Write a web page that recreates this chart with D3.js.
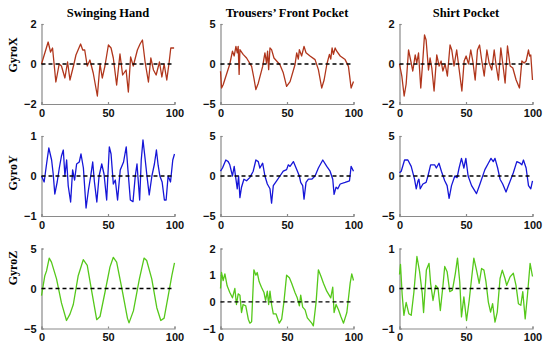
<!doctype html>
<html lang="en">
<head>
<meta charset="utf-8">
<title>Gyro panels</title>
<style>
  body { margin: 0; background: #fff; }
  .tick text { font-family: Arial, "Liberation Sans", sans-serif; font-weight: bold; font-size: 11px; fill: #111; }
  .title { font-family: "Times New Roman", "Liberation Serif", serif; font-weight: bold; font-size: 12.5px; }
  .ylab { font-family: "Times New Roman", "Liberation Serif", serif; font-weight: bold; font-size: 12px; }
</style>
</head>
<body>
<div id="chart"></div>
<script src="https://d3js.org/d3.v7.min.js"></script>
<script>
// column titles, row labels, ticks
var columns = ["Swinging Hand", "Trousers\u2019 Front Pocket", "Shirt Pocket"];
var rows = ["GyroX", "GyroY", "GyroZ"];
var xTicks = [0, 50, 100];
var yTicks = [
  [[-2, 0, 2], [-5, 0, 5], [-2, 0, 2]],
  [[-1, 0, 1], [-5, 0, 5], [-5, 0, 5]],
  [[-5, 0, 5], [-1, 0, 1, 2], [-1, 0, 1]]
];

// series: [sample, value]
var swingGyroX = [[0,0],[5,1.1],[6.8,0.6],[8.3,0.8],[10.8,-0.9],[13.3,0],[15,-0.1],[17.6,-0.7],[19.6,0.1],[21.4,-0.8],[24.4,0],[25.9,0.45],[29.4,1.0],[31,0.7],[32.5,0.7],[34.4,-0.1],[36.4,0.2],[38.9,-0.45],[42,-1.6],[44,0],[45.7,-0.7],[47.7,-0.1],[50.3,0.95],[52.3,0.8],[54,0.3],[56.5,-1.05],[59,0.5],[61,-0.55],[63.6,-0.3],[65.3,-1.4],[67,0.35],[69,-0.1],[72.1,0.7],[74.1,1.0],[75.9,1.2],[77.9,0.1],[80.4,-0.9],[82.2,0.3],[84.2,-0.3],[86.2,-0.55],[88.7,0.1],[90.5,-0.65],[92.2,0],[94.2,-0.8],[96,0.1],[97.2,0.8],[99.7,0.8]];
var trouserGyroX = [[0,-0.9],[0.8,-3],[2,-2.6],[7,0],[9,1.6],[10.3,1.0],[11.6,2.2],[12.6,1.4],[13.3,2.2],[14,-1.3],[14.6,1.8],[17,1.2],[19.6,0.75],[23.4,-0.3],[25.1,-1.75],[26.6,-3.2],[28.4,-2.4],[31.7,-0.3],[33.4,1.4],[34.6,0.1],[35.4,1.6],[36.2,-0.7],[37.2,2.0],[38.4,1.8],[40.2,0.75],[44.7,-0.1],[47.2,-1.1],[49.7,-2.8],[52.3,-2.2],[56,-0.1],[57.3,1.4],[58.5,0.6],[59.3,1.8],[61,1.0],[62.8,2.2],[64.3,1.4],[67.3,1.0],[71.1,0.55],[73.6,-0.7],[76.1,-3.0],[77.9,-2],[80,0],[81.9,1.2],[82.9,0.6],[83.9,2.0],[84.9,1.2],[86.2,2.0],[87.4,1.6],[90,1.0],[93.7,0.55],[96.2,-0.3],[98.2,-3],[100,-2.2]];
var shirtGyroX = [[0,0],[1.75,-0.6],[3.5,-1.6],[5,-1],[6.8,0.7],[8.5,0.15],[10,-0.35],[11.8,0.45],[13,0.05],[14.3,0.55],[16,-1.2],[17.5,0.15],[18.8,1.45],[20,1.2],[21.8,-0.3],[23,0.3],[24.3,-0.2],[26,-1.35],[28,0.45],[29.8,-0.1],[31.3,0.15],[32.6,-0.35],[34.3,0],[36,-0.6],[38,0.95],[39.3,0.7],[41,-0.1],[43,0.7],[44.9,-0.3],[46.9,-1.35],[48.6,0.15],[50.1,0.4],[51.9,0],[53.6,0.7],[55.1,0.15],[56.9,-0.8],[58.6,0.7],[60.2,0.95],[61.9,0.15],[63.7,-0.6],[65.7,0.7],[67.4,0.05],[69.4,-0.3],[71.2,0.7],[72.7,-0.1],[74.4,-0.8],[76.2,0.8],[77.7,0],[79.4,-0.95],[81.2,0.9],[83.2,-0.1],[85.2,-0.2],[87.7,-0.8],[90.2,-1.2],[92,0.15],[93.7,0.05],[95.2,0.15],[97,0.7],[97.8,0.4],[98.7,0.45],[100,-0.8]];

var swingGyroY = [[0,0],[2,-0.15],[3.8,0.3],[5.5,0.7],[7.6,0.4],[8.8,0.05],[10,-0.45],[11.8,-0.15],[13.4,0.2],[15,0.5],[16.4,0.65],[17.6,0],[18.9,0.4],[20.1,-0.25],[21.9,-0.65],[23.4,0.15],[24.9,-0.1],[26.4,0.3],[28.4,0.35],[29.7,0.55],[31.5,0.2],[33.5,-0.8],[35.3,-0.35],[37,0],[38.5,0.35],[39.8,-0.15],[41.6,-0.65],[43.3,0],[45.3,0.3],[47,0.05],[49,-0.6],[51,0.73],[52.3,0.55],[54,-0.2],[55.5,-0.1],[57.2,-0.6],[59.2,0.15],[61.7,0.35],[63.7,0.73],[65,0.15],[66.8,-0.6],[68.8,-0.64],[70.5,0],[71.8,0.3],[73.8,-0.6],[75,0.4],[76.3,0.9],[77.5,0.55],[79.3,0],[81,-0.47],[83,0],[84.9,0.3],[86.4,0.65],[87.7,0.27],[89,0],[90.7,-0.15],[92.4,-0.6],[93.7,-0.6],[95.2,0],[97,-0.15],[98.7,0.4],[100,0.55]];
var trouserGyroY = [[0,0.6],[1.5,1.0],[4,2.0],[5.8,1.8],[7,1.4],[9,0],[10.3,1.2],[11.6,-0.4],[12.6,-1.6],[13.6,0],[14.6,-2.7],[15.8,-1.4],[17.6,-0.4],[19.6,-0.6],[22,-0.2],[24.6,0.6],[26.6,2.0],[28.4,1.8],[29.6,1.0],[31.7,1.6],[33.4,0],[35.2,-1.0],[37.2,-1.6],[38.4,-3.4],[39.7,-1.2],[42.2,-0.6],[44.7,0],[47.2,0.6],[49.7,0.8],[51,1.4],[52.3,1.2],[54.8,1.8],[57.3,0.8],[59.3,0],[60.3,-0.8],[61.8,-1.2],[62.8,-2.9],[64.3,-0.8],[66.1,-0.4],[68.6,-0.4],[71.1,0],[73.6,1.0],[76.9,2.0],[79.9,1.2],[82.4,0.6],[84.4,-0.4],[85.4,-2.3],[86.9,-1.4],[88.2,-1.6],[90,-1.0],[93.7,-0.8],[97,-0.6],[98.2,1.2],[100,0.6]];
var shirtGyroY = [[0,0.4],[1.3,0.6],[3.8,2.0],[6.3,2.0],[8.8,1.2],[11.3,-0.4],[12.6,-1.6],[13.9,-0.6],[14.6,-0.4],[15.6,-1.6],[17.6,-1.0],[20,-0.8],[21.4,0],[23.4,1.4],[26.4,1.4],[27.7,1.0],[29.7,1.6],[31.5,0.6],[34,-0.6],[35.8,-1.2],[37.3,-2.8],[39.1,-1.2],[41.6,0],[43.3,-0.2],[44.8,1.0],[46.6,2.2],[48.4,1.0],[49.9,2.2],[51.6,0],[54.2,-1.2],[57.9,-2.2],[60.5,-1.0],[64.2,0.8],[66.8,1.6],[68.8,2.2],[70.5,1.8],[71.8,2.2],[73.8,1.0],[75.6,-0.4],[77.6,-1.0],[80.1,-2.0],[81.9,-1.2],[85.6,0.4],[88.2,1.8],[90.7,1.6],[92,1.4],[93.2,2.0],[95.2,1.0],[97,-1.2],[98.7,-1.6],[100,-0.6]];

var swingGyroZ = [[0,-0.9],[2.5,1.6],[3.8,2.2],[5.8,3.8],[7.5,3.3],[11.3,1.2],[15,-1.8],[18.8,-4.0],[21.4,-3.2],[23.9,-2.0],[27.6,1.6],[31.4,3.6],[34.4,2.9],[37.7,-0.3],[41.5,-3.9],[44,-3.5],[47.7,-0.5],[51.5,2.7],[54,3.9],[56.5,3.3],[60.3,0.1],[64.6,-3.7],[65.8,-4.3],[69.1,-2.8],[73.6,1.2],[77.1,3.8],[79.1,3.5],[82.9,1.2],[86.7,-2.4],[89.7,-4.0],[92.2,-3.7],[95.5,-0.7],[98,1.6],[100,3.2]];
var trouserGyroZ = [[0,0.5],[0.75,1.1],[2,0.8],[3.3,1.05],[5,0.6],[7,0.35],[9,0.15],[10.8,0.5],[12,-0.1],[13.3,0.3],[14.6,0.25],[15.8,-0.4],[17,-0.1],[19,-0.15],[20.9,-0.65],[22.1,-0.8],[23.4,-0.75],[25.1,1.2],[26.6,1.0],[27.6,1.1],[29.1,0.75],[30.8,0.55],[32.7,0.35],[33.9,0.05],[35.2,0.4],[36.2,-0.1],[37.2,0.4],[38.4,-0.1],[39.7,-0.45],[41.7,-0.45],[44.2,-0.8],[46,-0.65],[47.7,0],[49.7,1.0],[51.8,0.9],[53.5,0.7],[56,0.35],[57.7,0.15],[59.3,-0.15],[60.3,0.25],[61.8,-0.2],[63.6,-0.3],[65.3,-0.6],[68.6,-0.8],[69.8,-0.9],[71.9,0],[73.6,1.2],[75.6,0.95],[77.4,0.7],[79.9,0.4],[82.9,0.15],[84.4,0.55],[85.4,-0.4],[86.9,-0.1],[88.7,-0.3],[90.5,-0.55],[92.5,-0.8],[95,-0.4],[97.5,0.7],[98.7,1.05],[100,0.8]];
var shirtGyroZ = [[0,0.35],[0.75,0.6],[2,-0.15],[3.3,-0.67],[5,-0.35],[7,-0.63],[8.8,-0.67],[10.8,-0.1],[13.1,0.8],[15.1,0.42],[17.1,-0.13],[18.1,-0.6],[20.2,0.46],[22.2,0.63],[23.4,0.13],[25.2,-0.3],[27.2,0.08],[29,0],[30.7,-0.55],[32.7,0.08],[34,0.55],[35.8,0.42],[37.8,-0.08],[39.8,-0.04],[42,0.38],[43.6,0.76],[45.3,0.17],[46.6,-0.71],[48.4,-0.21],[50.4,-0.8],[52.4,-0.3],[54.2,0.25],[55.9,0.76],[57.9,0.46],[59.9,0.13],[61.7,0.5],[63.5,0.46],[65,0.17],[66.8,-0.34],[68.5,-0.59],[70,-0.38],[71.8,-0.84],[73.5,-0.59],[75.6,0.25],[77.3,0.46],[79.3,0.25],[80.6,0.08],[83.1,0.29],[85.6,0.38],[87.6,0.08],[89.4,-0.38],[91.2,-0.42],[92.7,-0.08],[94.5,-0.76],[96.2,-0.17],[98.2,0.63],[100,0.3]];

var series = [
  [swingGyroX, trouserGyroX, shirtGyroX],
  [swingGyroY, trouserGyroY, shirtGyroY],
  [swingGyroZ, trouserGyroZ, shirtGyroZ]
];
var rowColors = ["#b0361c", "#1616d8", "#55c81a"];

var width = 550, height = 348;
var colLeft = [41.5, 220.5, 399.5];
var panelW = 133;
var rowTop = [24, 136, 248.5];
var panelH = 80;
var ylabY = [55, 173, 268];

var svg = d3.select('#chart').append('svg')
  .attr('width', width)
  .attr('height', height);

columns.forEach(function(t, c){
  svg.append('text').attr('class', 'title')
    .attr('x', colLeft[c] + panelW / 2)
    .attr('y', 17)
    .attr('text-anchor', 'middle')
    .text(t);
});

rows.forEach(function(r, i){
  svg.append('text').attr('class', 'ylab')
    .attr('transform', 'translate(17,' + ylabY[i] + ') rotate(-90)')
    .attr('text-anchor', 'middle')
    .text(r);

  for (var c = 0; c < 3; c++) {
    var ticks = yTicks[i][c];
    var xscale = d3.scaleLinear().domain([0, 100]).range([0, panelW]);
    var yscale = d3.scaleLinear().domain(d3.extent(ticks)).range([panelH, 0]);

    var g = svg.append('g')
      .attr('transform', 'translate(' + colLeft[c] + ',' + rowTop[i] + ')');

    var xaxis = d3.axisBottom(xscale).tickValues(xTicks).tickSize(-2).tickPadding(5).tickFormat(d3.format('d'));
    var yaxis = d3.axisLeft(yscale).tickValues(ticks).tickSize(-2).tickPadding(5).tickFormat(d3.format('d'));

    g.append('g').attr('transform', 'translate(0,' + panelH + ')').call(xaxis);
    g.append('g').call(yaxis);
    g.selectAll('.domain, .tick line').attr('stroke', '#8a8a8a').attr('stroke-width', 1.2);

    g.append('path')
      .datum(series[i][c])
      .attr('fill', 'none')
      .attr('stroke', rowColors[i])
      .attr('stroke-width', 1.3)
      .attr('stroke-linejoin', 'round')
      .attr('d', d3.line()
        .x(function(d){ return xscale(d[0]); })
        .y(function(d){ return yscale(d[1]); }));

    g.append('line')
      .attr('x1', xscale(0)).attr('x2', xscale(100))
      .attr('y1', yscale(0)).attr('y2', yscale(0))
      .attr('stroke', '#000')
      .attr('stroke-width', 1.4)
      .attr('stroke-dasharray', '4,3');
  }
});
</script>
</body>
</html>
